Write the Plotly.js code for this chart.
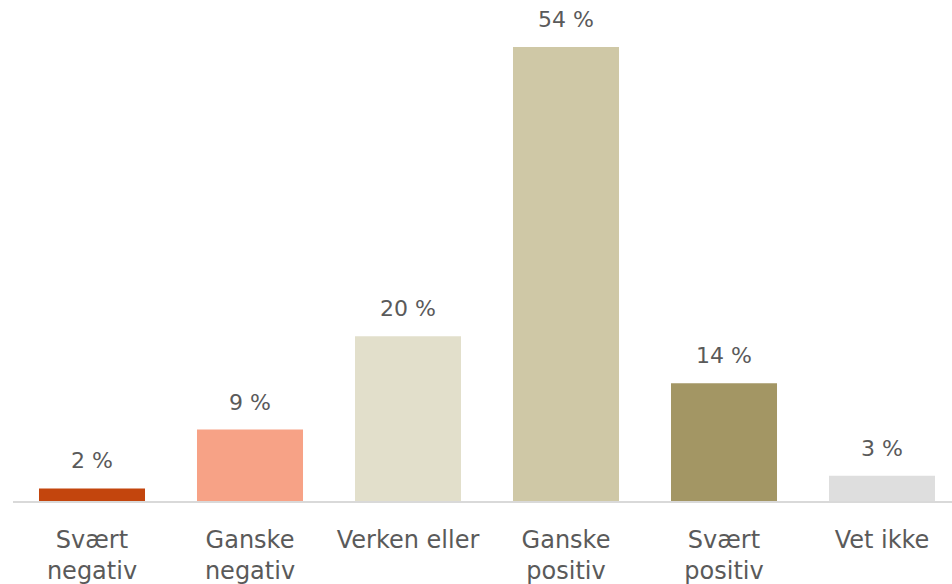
<!DOCTYPE html>
<html>
<head>
<meta charset="utf-8">
<script src="https://cdn.plot.ly/plotly-3.0.1.min.js"></script>
<style>html,body{margin:0;padding:0;background:#fff;}#chart{width:952px;height:584px;}</style>
</head>
<body>
<div id="chart"></div>
<script>
const categories = ["Svært<br>negativ", "Ganske<br>negativ", "Verken eller", "Ganske<br>positiv", "Svært<br>positiv", "Vet ikke"];
const values = [1.5, 8.5, 19.6, 54, 14, 3];
const labels = ["2 %", "9 %", "20 %", "54 %", "14 %", "3 %"];
const colors = ["#C3450D", "#F7A286", "#E2DFCB", "#CFC8A6", "#A39664", "#DEDEDE"];

const fontFam = "'Century Gothic', 'URW Gothic', 'DejaVu Sans', sans-serif";
const idx = categories.map((_, i) => i);

const trace = {
  type: 'bar',
  x: idx,
  y: values,
  marker: {color: colors},
  hoverinfo: 'none'
};

const annotations = idx.map(i => ({
  x: i, y: values[i], xref: 'x', yref: 'y',
  text: labels[i], showarrow: false,
  yanchor: 'bottom', yshift: 13,
  font: {family: fontFam, size: 22, color: '#5a5a5a'}
}));

const layout = {
  width: 952, height: 584,
  margin: {l: 13, r: 0, t: 0, b: 83, pad: 0},
  paper_bgcolor: '#fff', plot_bgcolor: '#fff',
  bargap: 0.329,
  showlegend: false,
  xaxis: {
    range: [-0.5, 5.443],
    tickmode: 'array', tickvals: idx, ticktext: categories,
    showline: true, linecolor: '#D9D9D9', linewidth: 2,
    showgrid: false, zeroline: false,
    ticks: 'outside', ticklen: 16, tickcolor: 'rgba(0,0,0,0)',
    tickfont: {family: fontFam, size: 24, color: '#5a5a5a'}
  },
  yaxis: {
    range: [0, 59.6], visible: false, showgrid: false, zeroline: false
  },
  annotations: annotations
};

Plotly.newPlot('chart', [trace], layout, {displayModeBar: false, staticPlot: true});
</script>
</body>
</html>
